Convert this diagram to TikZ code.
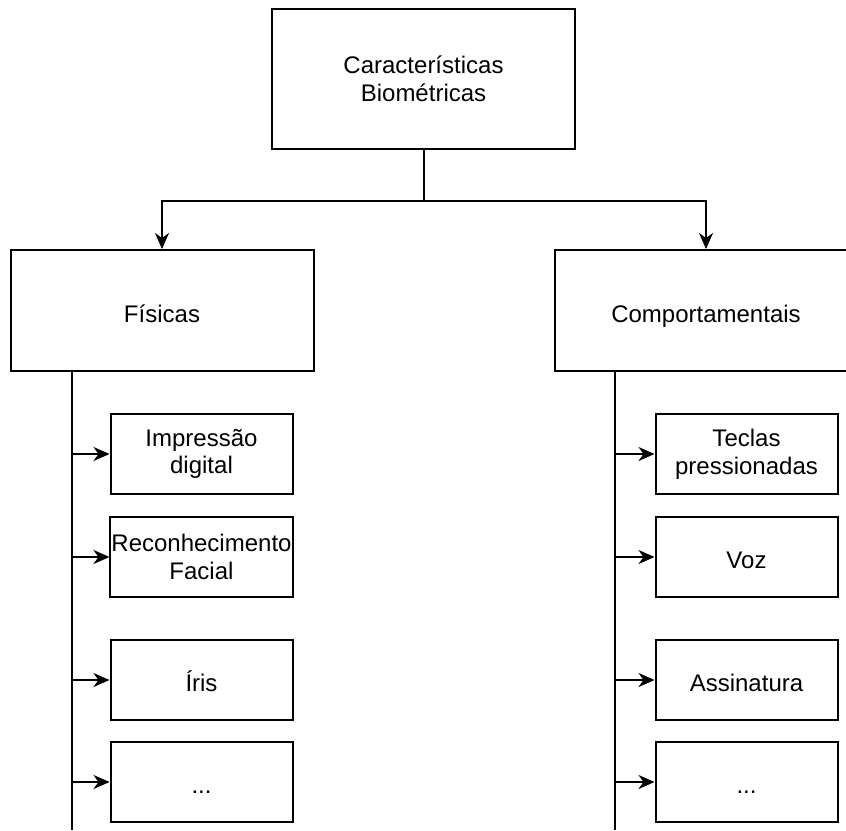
\documentclass[tikz,border=0pt]{standalone}
\usepackage{fontspec}
\setmainfont{Liberation Sans}
\usetikzlibrary{arrows.meta,positioning}

\begin{document}
\begin{tikzpicture}[x=0.5pt,y=-0.5pt,line width=1pt,>={Stealth[length=8pt,width=7pt,inset=2.5pt]},every node/.style={font=\fontsize{12pt}{13.8pt}\selectfont},box/.style={draw,align=center,minimum width=151.5pt,minimum height=60.5pt,inner xsep=0.5pt},leaf/.style={draw,align=center,minimum width=91pt,minimum height=40pt,inner xsep=0.5pt},oneline/.style={text height=14.5pt,text depth=3pt}]
\useasboundingbox (0,0) rectangle (846,830);
\node[box,minimum height=70pt] (top) at (423.5,79) {Características\\Biométricas};
\node[box,oneline] (fis) at (162,310.5) {Físicas};
\node[box,oneline] (comp) at (706,310.5) {Comportamentais};
\node[leaf,below right=20.5pt and 50pt of fis.south west] (fis1) {Impressão\\digital};
\node[leaf,below=10.5pt of fis1] (fis2) {Reconhecimento\\Facial};
\node[leaf,oneline,below=20.5pt of fis2] (fis3) {Íris};
\node[leaf,oneline,below=10pt of fis3] (fis4) {...};
\node[leaf,below right=20.5pt and 50.5pt of comp.south west] (comp1) {Teclas\\pressionadas};
\node[leaf,oneline,below=10.5pt of comp1] (comp2) {Voz};
\node[leaf,oneline,below=20.5pt of comp2] (comp3) {Assinatura};
\node[leaf,oneline,below=10pt of comp3] (comp4) {...};
\coordinate (fisbot) at (72,830);
\coordinate (compbot) at (615,830);
\draw[->] (top.south) -- ++(0,51) -| (fis.north);
\draw[->] (top.south) -- ++(0,51) -| (comp.north);
\draw (fis.south -| fisbot) -- (fisbot);
\draw (comp.south -| compbot) -- (compbot);
\foreach \n in {1,...,4} {\draw[->] (fis\n.west -| fisbot) -- (fis\n.west);\draw[->] (comp\n.west -| compbot) -- (comp\n.west);}
\end{tikzpicture}
\end{document}
